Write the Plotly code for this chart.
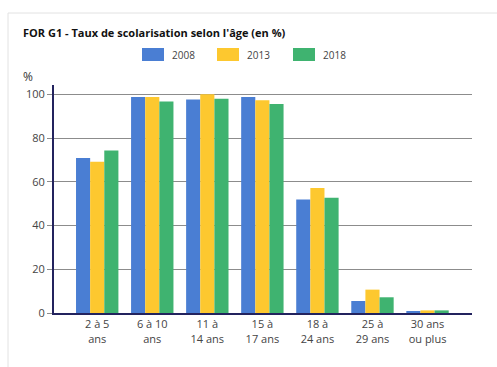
import plotly.graph_objects as go

categories = ["2 à 5<br>ans", "6 à 10<br>ans", "11 à<br>14 ans", "15 à<br>17 ans",
              "18 à<br>24 ans", "25 à<br>29 ans", "30 ans<br>ou plus"]
series_names = ["2008", "2013", "2018"]
v2008 = [71.0, 98.9, 97.8, 98.9, 52.0, 5.5, 0.9]
v2013 = [69.2, 98.9, 100.2, 97.4, 57.2, 10.7, 1.2]
v2018 = [74.4, 96.9, 98.1, 95.7, 52.8, 7.2, 1.2]
series_values = [v2008, v2013, v2018]
colors = ["#4A7ED3", "#FDC82F", "#3FB370"]

W, H = 497, 367
L, R, T, B = 54, 25, 85, 54
pw, ph = W - L - R, H - T - B

def px(x):
    return (x - L) / pw

def py(y):
    return (H - B - y) / ph

fig = go.Figure()
for name, vals, c in zip(series_names, series_values, colors):
    fig.add_trace(go.Bar(x=list(range(len(categories))), y=vals, name=name,
                         marker=dict(color=c, line=dict(width=0)), showlegend=False))

font = "Open Sans, DejaVu Sans, sans-serif"
annotations = [
    dict(text="<b>FOR G1 - Taux de scolarisation selon l'âge (en %)</b>", x=px(21), y=py(32),
         xref="paper", yref="paper", xanchor="left", yanchor="middle", showarrow=False,
         font=dict(family=font, size=11, color="#111")),
    dict(text="%", x=px(21), y=py(76), xref="paper", yref="paper", xanchor="left",
         yanchor="middle", showarrow=False, font=dict(family=font, size=12, color="#333")),
]
shapes = [
    dict(type="rect", xref="paper", yref="paper", x0=px(8), x1=px(520), y0=py(375), y1=py(13),
         line=dict(color="#e2e2e2", width=1), fillcolor="rgba(0,0,0,0)", layer="below"),
]
leg_x = [142, 217, 293]
for lx, name, c in zip(leg_x, series_names, colors):
    shapes.append(dict(type="rect", xref="paper", yref="paper", x0=px(lx), x1=px(lx + 22),
                       y0=py(61), y1=py(48), fillcolor=c, line=dict(width=0)))
    annotations.append(dict(text=name, x=px(lx + 28), y=py(55), xref="paper", yref="paper",
                            xanchor="left", yanchor="middle", showarrow=False,
                            font=dict(family=font, size=10, color="#444")))

fig.update_layout(
    width=W, height=H, margin=dict(l=L, r=R, t=T, b=B, pad=0),
    paper_bgcolor="white", plot_bgcolor="white",
    barmode="group", bargap=0.23, bargroupgap=0,
    annotations=annotations, shapes=shapes,
    xaxis=dict(tickmode="array", tickvals=list(range(len(categories))), ticktext=categories,
               range=[-0.785, 6.808], showgrid=False, showline=True, linecolor="#23235e",
               linewidth=2, ticks="", tickfont=dict(family=font, size=11, color="#444"),
               zeroline=False),
    yaxis=dict(range=[0, 104.4], tickvals=[0, 20, 40, 60, 80, 100], showgrid=True,
               gridcolor="#8c8c8c", gridwidth=1, showline=True, linecolor="#23235e",
               linewidth=2, ticks="outside", ticklen=5, tickcolor="#8c8c8c",
               tickfont=dict(family=font, size=11, color="#444"), zeroline=False),
)

fig.write_html("out.html")
